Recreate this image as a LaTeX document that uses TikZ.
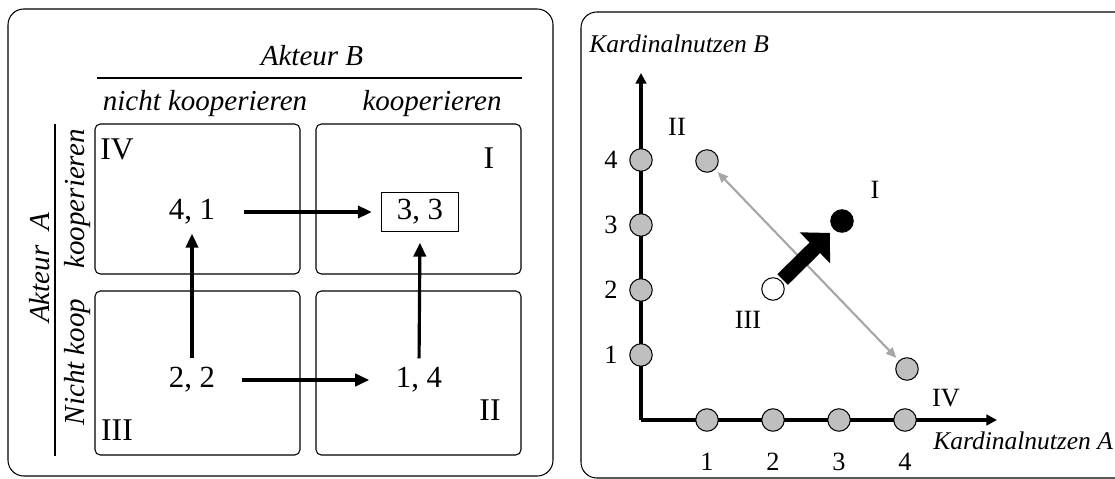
\documentclass[tikz,border=0pt]{standalone}
\usepackage{fontspec}
\setmainfont{Liberation Serif}
\usetikzlibrary{arrows.meta}

\begin{document}
\begin{tikzpicture}[x=0.02cm, y=-0.02cm]
  \useasboundingbox (0,0) rectangle (1115,479);

  \tikzstyle{panel}=[draw, rounded corners=9pt, line width=0.6pt]
  \tikzstyle{feld}=[draw, rounded corners=3pt, line width=0.6pt]
  \tikzstyle{kopf}=[font=\fontsize{16.5}{18}\selectfont\itshape, inner sep=0pt]
  \tikzstyle{wert}=[font=\fontsize{17.5}{20}\selectfont, inner sep=0pt]
  \tikzstyle{roem}=[font=\fontsize{18}{20}\selectfont, inner sep=0pt]
  \tikzstyle{pfeil}=[line width=1.8pt, -{Triangle[length=8pt, width=7pt]}]
  \tikzstyle{klein}=[font=\fontsize{15}{17}\selectfont, inner sep=0pt]
  \tikzstyle{achse}=[font=\fontsize{14.5}{17}\selectfont\itshape, inner sep=0pt, anchor=west]
  \tikzstyle{punkt}=[circle, draw, line width=0.6pt, minimum size=12.8pt, inner sep=0pt, fill=black!25]

  % Rahmen
  \draw[panel] (8,9) rectangle (553,476);
  \draw[panel] (581,12) rectangle (1140,478);

  % Matrix
  \node[kopf] (akteurb) at (312,56) {Akteur B};
  \draw[line width=1pt] (97,78) -- (522,78);
  \node[kopf] (nkb) at (205,104) {nicht kooperieren};
  \node[kopf] (kb) at (432,104) {kooperieren};

  \draw[line width=1pt] (55,124) -- (55,456);
  \node[kopf, rotate=90] (akteura) at (40,268) {Akteur\ \ A};
  \node[kopf, rotate=90] (ka) at (78,199) {kooperieren};
  \node[kopf, rotate=90] (nka) at (78,362) {Nicht koop};

  \draw[feld] (95,124) rectangle (300,274);
  \draw[feld] (316,124) rectangle (521,274);
  \draw[feld] (95,291) rectangle (300,455);
  \draw[feld] (316,291) rectangle (521,455);

  \node[roem] (q4) at (117,149) {IV};
  \node[roem] (q1) at (489,158) {I};
  \node[roem] (q3) at (117,430) {III};
  \node[roem] (q2) at (490,410) {II};

  \node[wert] (n41) at (192,212) {4, 1};
  \node[wert, draw, line width=0.6pt, inner xsep=9pt, inner ysep=4pt] (n33) at (420,212) {3, 3};
  \node[wert] (n22) at (192,380) {2, 2};
  \node[wert] (n14) at (419,380) {1, 4};

  \draw[pfeil, shorten <=16pt, shorten >=5pt] (n41.east) -- (n33.west);
  \draw[pfeil, shorten <=15pt, shorten >=15pt] (n22.east) -- (n14.west);
  \draw[pfeil, shorten <=5pt, shorten >=5pt] (n22.north) -- (n41.south);
  \draw[pfeil, shorten <=5pt, shorten >=6pt] (n14.north) -- (n33.south);

  % Diagramm
  \node[achse] (nutzenb) at (589,44) {Kardinalnutzen B};
  \coordinate (ursprung) at (641,420);
  \coordinate (yende) at (641,73);
  \coordinate (xende) at (997,420);
  \draw[line width=1.8pt, -{Triangle[length=6pt, width=6pt]}] (ursprung) -- (yende);
  \draw[line width=1.8pt, -{Triangle[length=6pt, width=6pt]}] (ursprung) -- (xende);
  \node[achse] (nutzena) at (933,441) {Kardinalnutzen A};

  \foreach \i in {1,...,4} {
    \node[punkt] (x\i) at (641+66*\i,420) {};
    \node[klein] (xl\i) at (641+66*\i,462) {\i};
    \node[punkt] (y\i) at (641,420-65*\i) {};
    \node[klein] (yl\i) at (611,420-65*\i) {\i};
  }

  \node[punkt] (p2) at (707,161) {};
  \node[punkt, fill=black] (p1) at (842,221) {};
  \node[punkt, fill=white] (p3) at (773,289) {};
  \node[punkt] (p4) at (907,369) {};

  \node[klein] (l2) at (677,127) {II};
  \node[klein] (l1) at (875,190) {I};
  \node[klein] (l3) at (748,320) {III};
  \node[klein] (l4) at (946,398) {IV};

  \draw[black!35, line width=1.2pt, {Triangle[length=6pt, width=5pt]}-{Triangle[length=6pt, width=5pt]}, shorten <=2pt, shorten >=2pt] (p2) -- (p4);
  \draw[line width=8.5pt, -{Triangle[length=12pt, width=24pt]}, shorten <=1pt, shorten >=3pt] (p3) -- (p1);
\end{tikzpicture}
\end{document}
